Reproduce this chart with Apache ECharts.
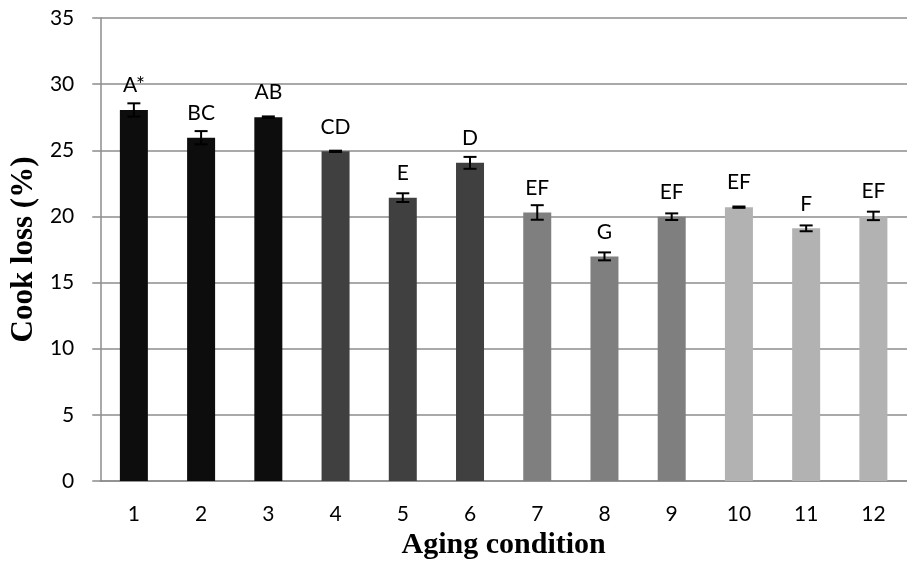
<!DOCTYPE html>
<html>
<head>
<meta charset="utf-8">
<script src="https://cdn.jsdelivr.net/npm/echarts@6/dist/echarts.min.js"></script>
<style>
  html, body { margin: 0; padding: 0; background: #ffffff; }
  #chart { width: 907px; height: 565px; }
</style>
</head>
<body>
<div id="chart"></div>
<script>
// Cook loss by aging condition, with standard error and significance letters
const categories = ['1', '2', '3', '4', '5', '6', '7', '8', '9', '10', '11', '12'];
const cookLoss = [28.05, 25.95, 27.5, 24.92, 21.42, 24.05, 20.3, 16.98, 19.98, 20.7, 19.1, 20.04];
const stdError = [0.5, 0.5, 0.06, 0.05, 0.33, 0.45, 0.55, 0.3, 0.25, 0.05, 0.22, 0.32];
const groupLetters = ['A*', 'BC', 'AB', 'CD', 'E', 'D', 'EF', 'G', 'EF', 'EF', 'F', 'EF'];
const yTicks = { min: 0, max: 35, interval: 5 };

// one shade per group of three conditions
const groupShades = ['#0d0d0d', '#404040', '#7f7f7f', '#b2b2b2'];
const gridGray = '#8c8c8c';
const labelFont = 'Lato, "Open Sans", sans-serif';
const titleFont = '"Liberation Serif", "Times New Roman", serif';

const chart = echarts.init(document.getElementById('chart'), null, { renderer: 'canvas' });

chart.setOption({
  animation: false,
  backgroundColor: '#ffffff',
  grid: { left: 99, top: 18, width: 816, height: 463, containLabel: false },
  xAxis: {
    type: 'category',
    data: categories,
    name: 'Aging condition',
    nameLocation: 'middle',
    nameGap: 44,
    nameTextStyle: { fontFamily: titleFont, fontWeight: 'bold', fontSize: 30, color: '#000' },
    axisLine: { lineStyle: { color: gridGray, width: 1.5 } },
    axisTick: { show: false },
    axisLabel: { margin: 23, fontFamily: labelFont, fontSize: 21, color: '#000' }
  },
  yAxis: {
    type: 'value',
    min: yTicks.min,
    max: yTicks.max,
    interval: yTicks.interval,
    name: 'Cook loss (%)',
    nameLocation: 'middle',
    nameGap: 60,
    nameTextStyle: { fontFamily: titleFont, fontWeight: 'bold', fontSize: 31, color: '#000' },
    axisLine: { show: true, lineStyle: { color: gridGray, width: 1.5 } },
    axisTick: { show: true, inside: false, length: 8, lineStyle: { color: gridGray, width: 1.5 } },
    axisLabel: { margin: 26, fontFamily: labelFont, fontSize: 21, color: '#000' },
    splitLine: { show: true, lineStyle: { color: gridGray, width: 1.5 } }
  },
  series: [
    {
      type: 'bar',
      barWidth: 28,
      data: cookLoss.map((v, i) => ({
        value: v,
        itemStyle: { color: groupShades[Math.floor(i / 3)] }
      })),
      label: {
        show: true,
        position: 'top',
        distance: 14,
        fontFamily: labelFont,
        fontSize: 21,
        color: '#000',
        formatter: (p) => groupLetters[p.dataIndex]
      },
      z: 2
    },
    {
      type: 'custom',
      z: 3,
      data: cookLoss.map((v, i) => [i, v, stdError[i]]),
      renderItem: (params, api) => {
        const i = api.value(0);
        const v = api.value(1);
        const e = api.value(2);
        const hi = api.coord([i, v + e]);
        const lo = api.coord([i, v - e]);
        const half = 6.5;
        const style = { stroke: '#000', lineWidth: 2 };
        return {
          type: 'group',
          children: [
            { type: 'line', shape: { x1: hi[0], y1: hi[1], x2: lo[0], y2: lo[1] }, style },
            { type: 'line', shape: { x1: hi[0] - half, y1: hi[1], x2: hi[0] + half, y2: hi[1] }, style },
            { type: 'line', shape: { x1: lo[0] - half, y1: lo[1], x2: lo[0] + half, y2: lo[1] }, style }
          ]
        };
      }
    }
  ]
});
</script>
</body>
</html>
